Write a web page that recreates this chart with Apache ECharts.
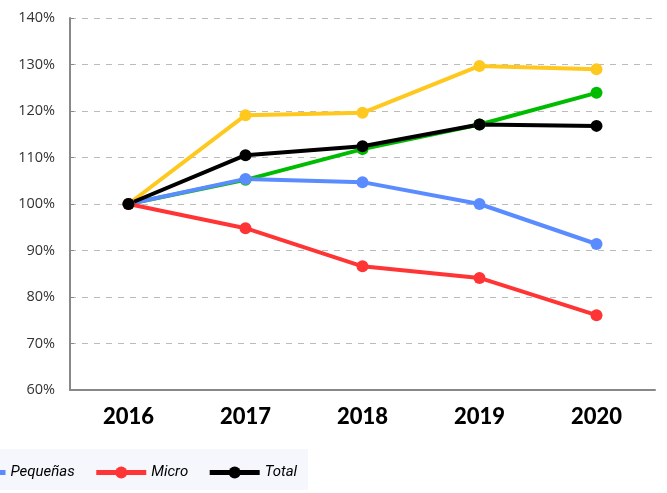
<!DOCTYPE html>
<html><head><meta charset="utf-8">
<script src="https://cdn.jsdelivr.net/npm/echarts@6/dist/echarts.min.js"></script>
<style>html,body{margin:0;padding:0;background:#fff}#c{width:667px;height:493px}</style>
</head><body><div id="c"></div>
<script>
const years = ['2016','2017','2018','2019','2020'];
const yTicks = [60,70,80,90,100,110,120,130,140];
const grandes = [100, 119.1, 119.6, 129.7, 129.0];
const medianas = [100, 105.2, 111.8, 117.1, 123.9];
const pequenas = [100, 105.4, 104.7, 100.0, 91.4];
const micro = [100, 94.8, 86.6, 84.1, 76.1];
const total = [100, 110.5, 112.4, 117.1, 116.8];
const seriesDefs = [
  {name:'Grandes', data:grandes, color:'#FFC81E'},
  {name:'Medianas', data:medianas, color:'#00BC00'},
  {name:'Pequeñas', data:pequenas, color:'#5B8CFF'},
  {name:'Micro', data:micro, color:'#FF3535'},
  {name:'Total', data:total, color:'#000000'}
];
const chart = echarts.init(document.getElementById('c'));
chart.setOption({
  animation:false,
  graphic:[{type:'rect', shape:{x:0,y:449,width:308,height:41}, style:{fill:'#F6F7FD'}, z:-1}],
  grid:{left:70, right:12, top:18, bottom:103},
  legend:{
    data:['Pequeñas','Micro','Total'],
    left:-52, top:460, itemWidth:50, itemHeight:15, itemGap:19,
    lineStyle:{width:5},
    textStyle:{fontFamily:'Roboto', fontStyle:'italic', fontSize:15, color:'#000'}
  },
  xAxis:{type:'category', data:years, boundaryGap:true,
    axisLine:{lineStyle:{color:'#888', width:2}}, axisTick:{show:false},
    axisLabel:{fontFamily:'Lato', fontWeight:900, fontSize:22, color:'#000', margin:16}},
  yAxis:{type:'value', min:60, max:140, interval:10,
    axisLine:{show:true, lineStyle:{color:'#888', width:2}},
    axisTick:{show:true, inside:true, length:4, lineStyle:{color:'#888'}},
    splitLine:{lineStyle:{color:'#bbb', type:[6,6], width:1}},
    axisLabel:{formatter:'{value}%', fontFamily:'Open Sans', fontSize:14.5, color:'#333', margin:15}},
  series: seriesDefs.map(s=>({
    name:s.name, type:'line', data:s.data, symbol:'circle', symbolSize:12,
    lineStyle:{width:4, color:s.color}, itemStyle:{color:s.color}
  }))
});
</script></body></html>
